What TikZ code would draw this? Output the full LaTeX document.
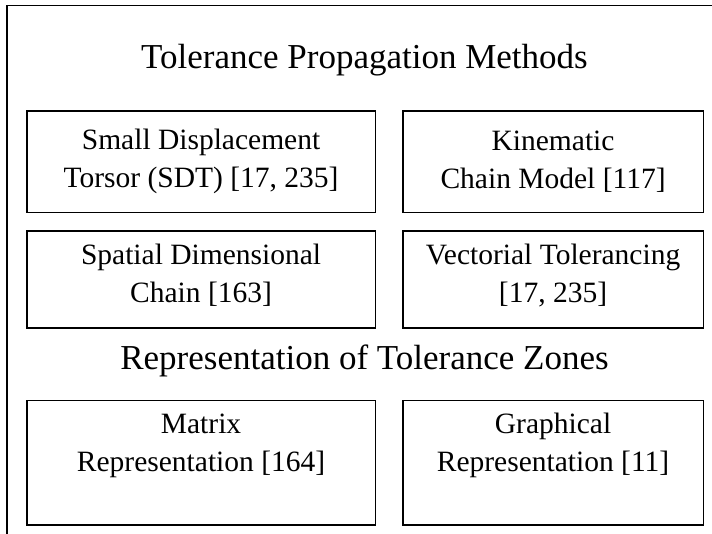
\documentclass[tikz,border=0pt]{standalone}
\usepackage{fontspec}
\setmainfont{Liberation Serif}
\begin{document}
\begin{tikzpicture}[x=1pt,y=-1pt,
  box/.style={draw=black, line width=1.6pt, inner sep=0pt, anchor=north west},
  boxtext/.style={align=center, inner sep=0pt, font=\fontsize{29.5}{38}\selectfont},
  header/.style={inner sep=0pt, anchor=base, font=\fontsize{35}{42}\selectfont}]
\useasboundingbox (0,0) rectangle (712,533);
\clip (0,0) rectangle (712,533);
% outer frame (cut by the page edges)
\coordinate (frTR) at (716,5.5);
\coordinate (frTL) at (7,5.5);
\coordinate (frBL) at (7,537);
\draw[line width=1.6pt] (frTR) -- (frTL) -- (frBL);
% headers
\node[header] (h1) at (364.5,68) {Tolerance Propagation Methods};
\node[header] (h2) at (364.5,369) {Representation of Tolerance Zones};
% boxes
\node[box, minimum width=348.5pt, minimum height=101.5pt] (b1) at (26,110) {};
\node[box, minimum width=300.5pt, minimum height=101.5pt] (b2) at (402,110) {};
\node[box, minimum width=348.5pt, minimum height=97pt] (b3) at (26,230) {};
\node[box, minimum width=300.5pt, minimum height=97pt] (b4) at (402,230) {};
\node[box, minimum width=348.5pt, minimum height=124.5pt] (b5) at (26,399.5) {};
\node[box, minimum width=300.5pt, minimum height=124.5pt] (b6) at (402,399.5) {};
% texts
\node[boxtext] (t1) at (b1.center) {Small Displacement\\Torsor (SDT) [17, 235]};
\node[boxtext] (t2) at (b2.center) {Kinematic\\Chain Model [117]};
\node[boxtext] (t3) at ([yshift=4pt]b3.center) {Spatial Dimensional\\Chain [163]};
\node[boxtext] (t4) at ([yshift=4pt]b4.center) {Vectorial Tolerancing\\{}[17, 235]};
\node[boxtext] (t5) at ([yshift=17pt]b5.center) {Matrix\\Representation [164]};
\node[boxtext] (t6) at ([yshift=17pt]b6.center) {Graphical\\Representation [11]};
\end{tikzpicture}
\end{document}
